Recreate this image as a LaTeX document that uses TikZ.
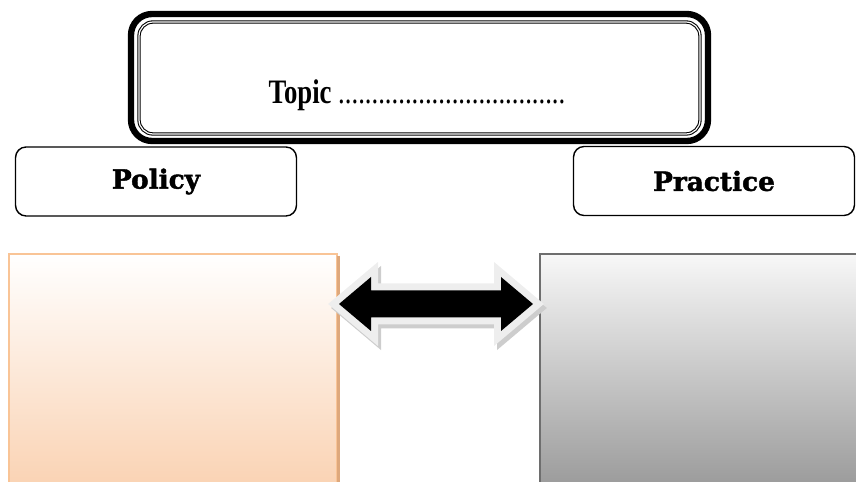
\documentclass[tikz,border=0pt]{standalone}
\usepackage{fontspec}
\usepackage{xcolor}
\newfontfamily\topicfont[FakeStretch=0.78]{Liberation Serif}
\newfontfamily\kopffont[BoldFeatures={FakeBold=1.6}]{DejaVu Serif}
\definecolor{pfirsich}{RGB}{250,211,180}
\definecolor{pfirsichrand}{RGB}{249,196,150}
\definecolor{pfirsichdunkel}{RGB}{222,168,124}
\definecolor{hellgrau}{RGB}{238,238,238}
\definecolor{schattengrau}{RGB}{205,205,205}
\definecolor{grau}{RGB}{155,155,155}
\definecolor{dunkelgrau}{RGB}{110,110,110}
% Umriss des Doppelpfeils (relativ zur Mitte)
\newcommand{\pfeilform}{(-97,0) -- (-65,-27) -- (-65,-13.5) -- (65,-13.5) -- (65,-27) -- (97,0) -- (65,27) -- (65,13.5) -- (-65,13.5) -- (-65,27) -- cycle}
\tikzset{
  kopf/.style={draw, line width=0.8pt, rounded corners=6pt, fill=white,
    minimum width=5.62cm, minimum height=1.38cm, inner sep=0pt,
    font=\kopffont\bfseries\fontsize{15}{17}\selectfont}
}

\begin{document}
\begin{tikzpicture}[x=0.02cm, y=-0.02cm]
        \useasboundingbox (0,0) rectangle (856,482);

        % Themenfeld oben
        \draw[line width=3.6pt, rounded corners=12pt, fill=white] (131,14) rectangle (708,141);  % Dicker Rand
        \draw[line width=0.6pt, double, double distance=0.7pt, rounded corners=8pt] (139,22) rectangle (700,134);  % Doppelter Innenrand
        \node[anchor=base] (topic) at (417,104) {\topicfont\fontsize{19.5}{22}\selectfont\textbf{Topic} ..................................};

        % Kopffelder
        \node[kopf] (policy) at (156,181.5) {Policy};
        \node[kopf] (practice) at (714,181) {Practice};

        % Linkes Feld (Verlauf pfirsich)
        \shade[top color=white, bottom color=pfirsich] (9,254) rectangle (337,484);
        \draw[pfirsichrand, line width=1.2pt] (9,254) rectangle (337,486);
        \draw[pfirsichdunkel, line width=1.5pt] (338.5,256) -- (338.5,486);  % Schatten rechts

        % Rechtes Feld (Verlauf grau)
        \shade[top color=white!97!black, bottom color=grau] (540,254) rectangle (860,486);
        \draw[dunkelgrau, line width=1.2pt] (540,254) rectangle (862,486);

        % Doppelpfeil
        \begin{scope}[shift={(439,308)}]
          \draw[schattengrau, line width=0.28cm, line join=miter] \pfeilform;  % Schatten
        \end{scope}
        \begin{scope}[shift={(436,304)}]
          \draw[hellgrau, line width=0.28cm, line join=miter] \pfeilform;  % Heller Rand
          \fill[black] \pfeilform;
        \end{scope}
    \end{tikzpicture}
\end{document}
